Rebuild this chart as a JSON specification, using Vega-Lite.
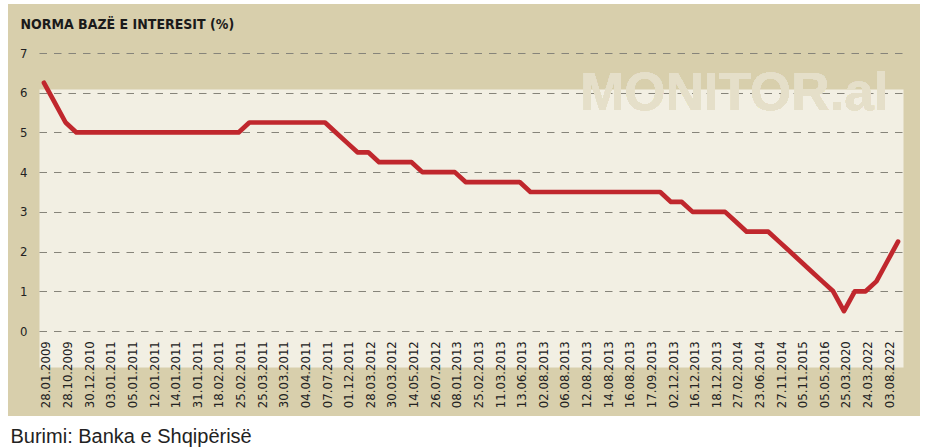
{
  "$schema": "https://vega.github.io/schema/vega-lite/v6.json",
  "width": 912,
  "height": 412,
  "autosize": "none",
  "padding": {"left": 8, "top": 4, "right": 10, "bottom": 32},
  "background": "#ffffff",
  "view": {"fill": "#d8cfac", "stroke": null},
  "config": {"axis": {"labelOverlap": false, "labelSeparation": 0}},
  "data": {
    "values": [
      {"i": 0, "date": "28.01.2009", "rate": 6.25},
      {"i": 1, "rate": 5.75},
      {"i": 2, "date": "28.10.2009", "rate": 5.25},
      {"i": 3, "rate": 5.0},
      {"i": 4, "date": "30.12.2010", "rate": 5.0},
      {"i": 5, "rate": 5.0},
      {"i": 6, "date": "03.01.2011", "rate": 5.0},
      {"i": 7, "rate": 5.0},
      {"i": 8, "date": "05.01.2011", "rate": 5.0},
      {"i": 9, "rate": 5.0},
      {"i": 10, "date": "12.01.2011", "rate": 5.0},
      {"i": 11, "rate": 5.0},
      {"i": 12, "date": "14.01.2011", "rate": 5.0},
      {"i": 13, "rate": 5.0},
      {"i": 14, "date": "31.01.2011", "rate": 5.0},
      {"i": 15, "rate": 5.0},
      {"i": 16, "date": "18.02.2011", "rate": 5.0},
      {"i": 17, "rate": 5.0},
      {"i": 18, "date": "25.02.2011", "rate": 5.0},
      {"i": 19, "rate": 5.25},
      {"i": 20, "date": "25.03.2011", "rate": 5.25},
      {"i": 21, "rate": 5.25},
      {"i": 22, "date": "30.03.2011", "rate": 5.25},
      {"i": 23, "rate": 5.25},
      {"i": 24, "date": "04.04.2011", "rate": 5.25},
      {"i": 25, "rate": 5.25},
      {"i": 26, "date": "07.07.2011", "rate": 5.25},
      {"i": 27, "rate": 5.0},
      {"i": 28, "date": "01.12.2011", "rate": 4.75},
      {"i": 29, "rate": 4.5},
      {"i": 30, "date": "28.03.2012", "rate": 4.5},
      {"i": 31, "rate": 4.25},
      {"i": 32, "date": "30.03.2012", "rate": 4.25},
      {"i": 33, "rate": 4.25},
      {"i": 34, "date": "14.05.2012", "rate": 4.25},
      {"i": 35, "rate": 4.0},
      {"i": 36, "date": "26.07.2012", "rate": 4.0},
      {"i": 37, "rate": 4.0},
      {"i": 38, "date": "08.01.2013", "rate": 4.0},
      {"i": 39, "rate": 3.75},
      {"i": 40, "date": "25.02.2013", "rate": 3.75},
      {"i": 41, "rate": 3.75},
      {"i": 42, "date": "11.03.2013", "rate": 3.75},
      {"i": 43, "rate": 3.75},
      {"i": 44, "date": "13.06.2013", "rate": 3.75},
      {"i": 45, "rate": 3.5},
      {"i": 46, "date": "02.08.2013", "rate": 3.5},
      {"i": 47, "rate": 3.5},
      {"i": 48, "date": "06.08.2013", "rate": 3.5},
      {"i": 49, "rate": 3.5},
      {"i": 50, "date": "12.08.2013", "rate": 3.5},
      {"i": 51, "rate": 3.5},
      {"i": 52, "date": "14.08.2013", "rate": 3.5},
      {"i": 53, "rate": 3.5},
      {"i": 54, "date": "16.08.2013", "rate": 3.5},
      {"i": 55, "rate": 3.5},
      {"i": 56, "date": "17.09.2013", "rate": 3.5},
      {"i": 57, "rate": 3.5},
      {"i": 58, "date": "02.12.2013", "rate": 3.25},
      {"i": 59, "rate": 3.25},
      {"i": 60, "date": "16.12.2013", "rate": 3.0},
      {"i": 61, "rate": 3.0},
      {"i": 62, "date": "18.12.2013", "rate": 3.0},
      {"i": 63, "rate": 3.0},
      {"i": 64, "date": "27.02.2014", "rate": 2.75},
      {"i": 65, "rate": 2.5},
      {"i": 66, "date": "23.06.2014", "rate": 2.5},
      {"i": 67, "rate": 2.5},
      {"i": 68, "date": "27.11.2014", "rate": 2.25},
      {"i": 69, "rate": 2.0},
      {"i": 70, "date": "05.11.2015", "rate": 1.75},
      {"i": 71, "rate": 1.5},
      {"i": 72, "date": "05.05.2016", "rate": 1.25},
      {"i": 73, "rate": 1.0},
      {"i": 74, "date": "25.03.2020", "rate": 0.5},
      {"i": 75, "rate": 1.0},
      {"i": 76, "date": "24.03.2022", "rate": 1.0},
      {"i": 77, "rate": 1.25},
      {"i": 78, "date": "03.08.2022", "rate": 1.75},
      {"i": 79, "rate": 2.25}
    ]
  },
  "layer": [
    {
      "mark": {
        "type": "text",
        "text": "MONITOR.al",
        "font": "Liberation Sans",
        "fontWeight": "bold",
        "fontSize": 53,
        "color": "#e5dfc9",
        "align": "left",
        "baseline": "alphabetic"
      },
      "encoding": {
        "x": {"datum": 49.6, "type": "quantitative"},
        "y": {"datum": 5.565, "type": "quantitative"}
      }
    },
    {
      "mark": {
        "type": "line",
        "color": "#c0272d",
        "strokeWidth": 4.7,
        "strokeCap": "round",
        "strokeJoin": "round"
      },
      "encoding": {
        "x": {
          "field": "i",
          "type": "quantitative",
          "scale": {"domain": [-0.46, 79.46], "range": [31, 895], "nice": false, "zero": false},
          "axis": {
            "title": "Burimi: Banka e Shqipërisë",
            "titleX": 2,
            "titleY": 26,
            "titleAngle": 0,
            "titleAlign": "left",
            "titleBaseline": "alphabetic",
            "titleFont": "Liberation Sans",
            "titleFontSize": 20,
            "titleFontWeight": "normal",
            "titleColor": "#222222",
            "tickCount": 200,
            "values": [0, 2, 4, 6, 8, 10, 12, 14, 16, 18, 20, 22, 24, 26, 28, 30, 32, 34, 36, 38, 39.5, 40, 42, 44, 46, 48, 50, 52, 54, 56, 58, 60, 62, 64, 66, 68, 70, 72, 74, 76, 78],
            "labelExpr": "datum.value % 2 == 0 ? ['28.01.2009','28.10.2009','30.12.2010','03.01.2011','05.01.2011','12.01.2011','14.01.2011','31.01.2011','18.02.2011','25.02.2011','25.03.2011','30.03.2011','04.04.2011','07.07.2011','01.12.2011','28.03.2012','30.03.2012','14.05.2012','26.07.2012','08.01.2013','25.02.2013','11.03.2013','13.06.2013','02.08.2013','06.08.2013','12.08.2013','14.08.2013','16.08.2013','17.09.2013','02.12.2013','16.12.2013','18.12.2013','27.02.2014','23.06.2014','27.11.2014','05.11.2015','05.05.2016','25.03.2020','24.03.2022','03.08.2022'][datum.value / 2] : ''",
            "labelAngle": 270,
            "labelAlign": "right",
            "labelBaseline": "middle",
            "labelPadding": -75.3,
            "labelOffset": 2,
            "labelFont": "DejaVu Sans Condensed, Liberation Sans",
            "labelFontSize": 13,
            "labelColor": "#222222",
            "labelOverlap": false,
            "labelSeparation": 0,
            "labelFlush": false,
            "labelBound": false,
            "ticks": false,
            "tickSize": 0,
            "domain": false,
            "grid": true,
            "gridColor": "#f2efe3",
            "gridCap": "butt",
            "gridWidth": {"condition": {"test": "datum.value == 39.5", "value": 864}, "value": 0}
          }
        },
        "y": {
          "field": "rate",
          "type": "quantitative",
          "scale": {"domain": [0, 7], "range": [327, 49], "nice": false, "zero": true},
          "axis": {
            "title": "NORMA BAZË E INTERESIT (%)",
            "titleX": 12,
            "titleY": 24,
            "titleAngle": 0,
            "titleAlign": "left",
            "titleBaseline": "alphabetic",
            "titleFont": "DejaVu Sans Condensed, Liberation Sans",
            "titleFontSize": 14,
            "titleFontWeight": "bold",
            "titleColor": "#1a1a1a",
            "values": [0, 1, 2, 3, 4, 5, 6, 7],
            "format": "d",
            "labelFont": "DejaVu Sans Condensed, Liberation Sans",
            "labelFontSize": 13,
            "labelColor": "#222222",
            "labelPadding": -19,
            "labelOverlap": false,
            "ticks": false,
            "tickSize": 0,
            "domain": false,
            "grid": true,
            "gridColor": "#86847a",
            "gridWidth": 1.2,
            "gridDash": [7.5, 7]
          }
        }
      }
    }
  ]
}
